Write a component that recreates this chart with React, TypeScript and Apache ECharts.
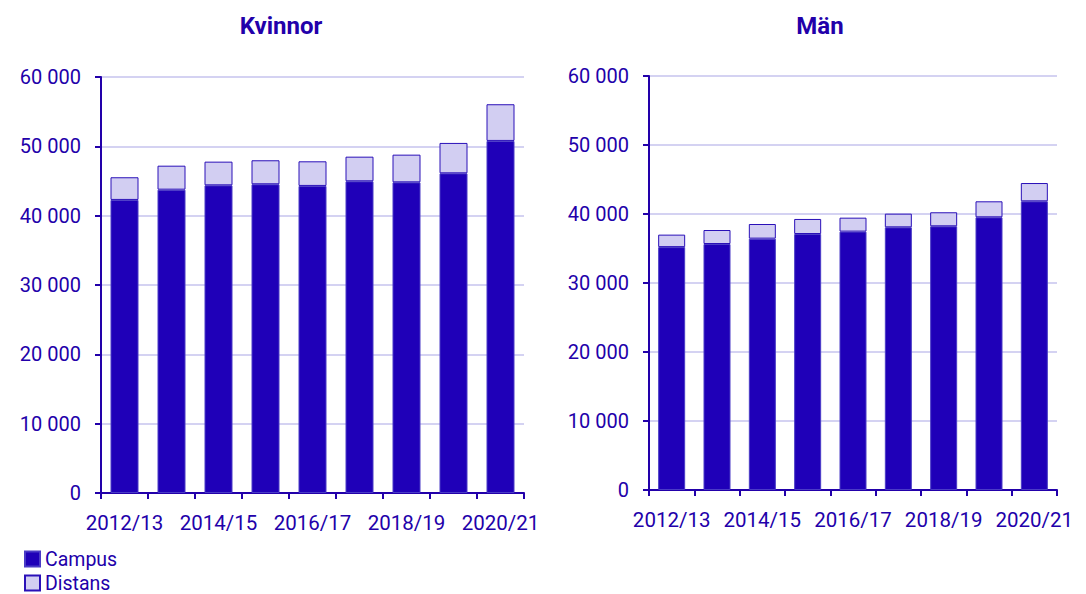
import React, { useEffect, useRef } from "react";
import * as echarts from "echarts";

const categories = ["2012/13", "2013/14", "2014/15", "2015/16", "2016/17", "2017/18", "2018/19", "2019/20", "2020/21"];
const kvinnorCampus = [42270, 43750, 44380, 44530, 44290, 44960, 44810, 46110, 50780];
const kvinnorDistans = [3270, 3460, 3410, 3460, 3550, 3550, 3990, 4380, 5290];
const manCampus = [35200, 35650, 36430, 37100, 37450, 38070, 38220, 39520, 41840];
const manDistans = [1810, 2030, 2120, 2180, 2020, 1980, 2030, 2320, 2650];
const titles = ["Kvinnor", "Män"];
const legendNames = ["Campus", "Distans"];

const TEXT = "#2200aa";
const CAMPUS = "#1f00b8";
const DISTANS = "#d2cef2";
const GRID = "#d4d2f2";
const FONT = "Roboto";

const fmt = (v: number) => String(v).replace(/\B(?=(\d{3})+(?!\d))/g, " ");

export default function App() {
  const ref = useRef<HTMLDivElement>(null);
  useEffect(() => {
    if (!ref.current) return;
    const chart = echarts.init(ref.current, null, { renderer: "svg" });
    const xAxis = (gridIndex: number) => ({
      type: "category",
      gridIndex,
      data: categories,
      boundaryGap: true,
      axisLine: { show: true, lineStyle: { color: TEXT, width: 2 } },
      axisTick: { show: true, length: 6, lineStyle: { color: TEXT, width: 2 }, interval: 0 },
      axisLabel: { interval: 1, color: TEXT, fontSize: 20.5, fontFamily: FONT, margin: 19 },
      splitLine: { show: false },
    });
    const yAxis = (gridIndex: number) => ({
      type: "value",
      gridIndex,
      min: 0,
      max: 60000,
      interval: 10000,
      axisLine: { show: true, lineStyle: { color: TEXT, width: 2 } },
      axisTick: { show: true, length: 6, lineStyle: { color: TEXT, width: 2 } },
      axisLabel: { color: TEXT, fontSize: 20, fontFamily: FONT, margin: 20, formatter: (v: number) => fmt(v) },
      splitLine: { show: true, lineStyle: { color: GRID, width: 2 } },
    });
    const campusStyle = { color: CAMPUS, borderColor: "#4a3bc6", borderWidth: 1 };
    const distansStyle = { color: DISTANS, borderColor: "#2a10b8", borderWidth: 1 };
    const legend = (name: string, top: number) => ({
      orient: "vertical",
      left: 24,
      top,
      padding: 0,
      itemWidth: 15,
      itemHeight: 15,
      icon: "rect",
      textStyle: { color: TEXT, fontSize: 19.5, fontFamily: FONT, lineHeight: 20 },
      data: [name],
    });
    chart.setOption({
      animation: false,
      textStyle: { fontFamily: FONT },
      grid: [
        { left: 101, right: 562, top: 77, bottom: 101 },
        { left: 649, right: 29, top: 76, bottom: 104 },
      ],
      xAxis: [xAxis(0), xAxis(1)],
      yAxis: [yAxis(0), yAxis(1)],
      legend: [legend(legendNames[0], 549), legend(legendNames[1], 573)],
      graphic: [
        { type: "text", x: 281, y: 26, style: { text: titles[0], textAlign: "center", textVerticalAlign: "middle", font: `bold 24px ${FONT}`, fill: TEXT } },
        { type: "text", x: 820, y: 26, style: { text: titles[1], textAlign: "center", textVerticalAlign: "middle", font: `bold 24px ${FONT}`, fill: TEXT } },
      ],
      series: [
        { name: "Campus", type: "bar", stack: "k", xAxisIndex: 0, yAxisIndex: 0, barWidth: 28, data: kvinnorCampus, itemStyle: campusStyle },
        { name: "Distans", type: "bar", stack: "k", xAxisIndex: 0, yAxisIndex: 0, barWidth: 28, data: kvinnorDistans, itemStyle: distansStyle },
        { name: "Campus", type: "bar", stack: "m", xAxisIndex: 1, yAxisIndex: 1, barWidth: 27, data: manCampus, itemStyle: campusStyle },
        { name: "Distans", type: "bar", stack: "m", xAxisIndex: 1, yAxisIndex: 1, barWidth: 27, data: manDistans, itemStyle: distansStyle },
      ],
    });
    return () => chart.dispose();
  }, []);
  return <div ref={ref} style={{ position: "absolute", left: 0, top: 0, width: 1086, height: 594 }} />;
}
